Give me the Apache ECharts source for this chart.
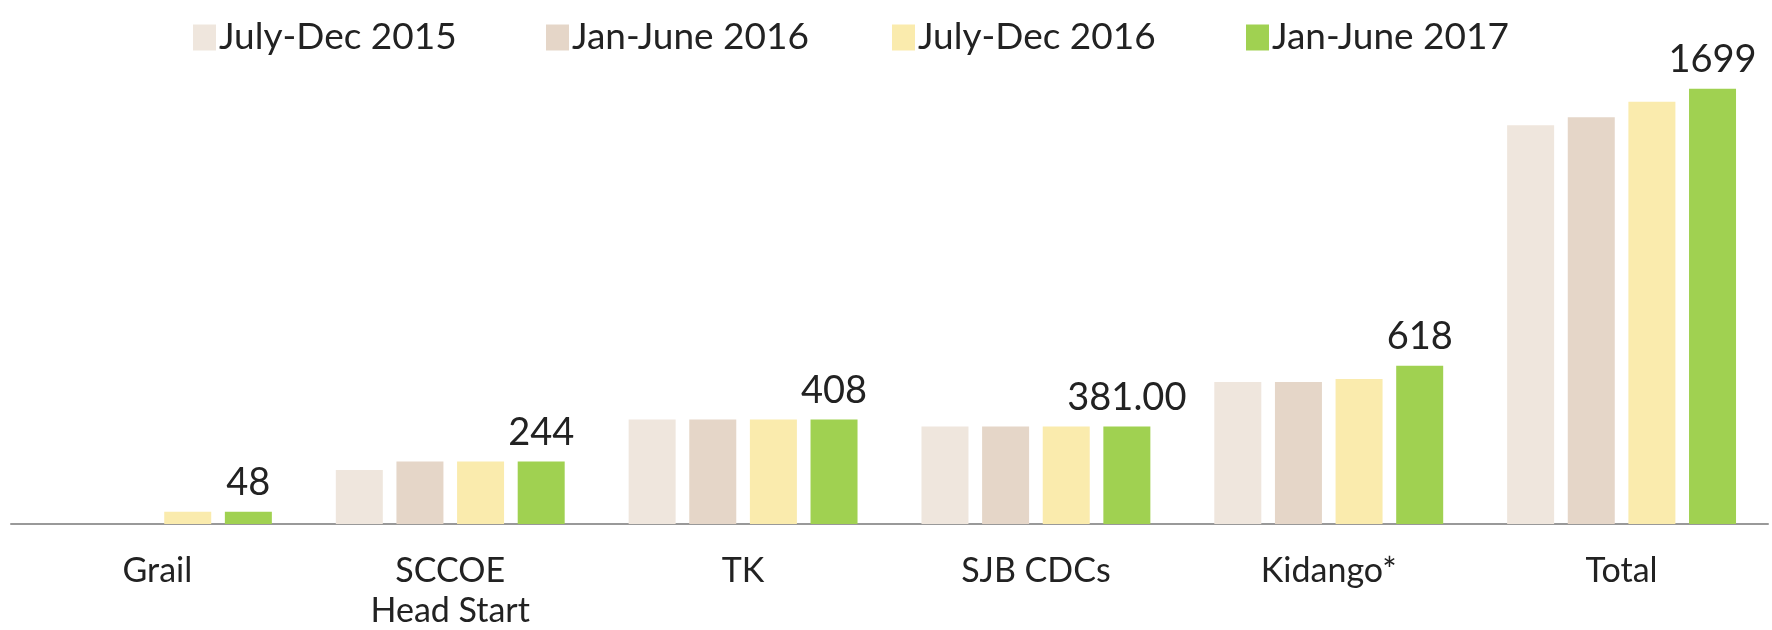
<!DOCTYPE html>
<html>
<head>
<meta charset="utf-8">
<script src="https://cdn.jsdelivr.net/npm/echarts@6/dist/echarts.min.js"></script>
<style>
  html, body { margin: 0; padding: 0; background: #fff; }
  #main { width: 1772px; height: 630px; }
</style>
</head>
<body>
<div id="main"></div>
<script>
// categories + series
const categories = ['Grail', 'SCCOE\nHead Start', 'TK', 'SJB CDCs', 'Kidango*', 'Total'];
const seriesNames = ['July-Dec 2015', 'Jan-June 2016', 'July-Dec 2016', 'Jan-June 2017'];
const julDec2015 = [null, 211, 408, 381, 554, 1556];
const janJun2016 = [null, 244, 408, 381, 554, 1588];
const julDec2016 = [48, 244, 408, 381, 566, 1648];
const janJun2017 = [48, 244, 408, 381, 618, 1699];
// only the last period is labelled
const valueLabels = ['48', '244', '408', '381.00', '618', '1699'];

const colors = ['#EFE6DD', '#E5D6C8', '#FAEBAD', '#A0D151'];
const legendLeft = [188, 541, 887, 1241];
const fontFamily = 'Lato, "Open Sans", sans-serif';

const chart = echarts.init(document.getElementById('main'));

const allData = [julDec2015, janJun2016, julDec2016, janJun2017];

chart.setOption({
  animation: false,
  legend: seriesNames.map((name, i) => ({
    data: [name],
    left: legendLeft[i],
    top: 14,
    itemWidth: 23,
    itemHeight: 26,
    itemGap: 0,
    textStyle: { fontSize: 37, color: '#222', fontFamily: fontFamily, padding: [0, 0, 0, -2] },
    icon: 'rect'
  })),
  grid: { left: 11, right: 4, top: 50, bottom: 106, containLabel: false, outerBoundsMode: 'none' },
  xAxis: {
    type: 'category',
    data: categories,
    axisLine: { lineStyle: { color: '#999', width: 2 } },
    axisTick: { show: false },
    axisLabel: {
      fontSize: 34,
      color: '#222',
      fontFamily: fontFamily,
      margin: 27,
      lineHeight: 40
    }
  },
  yAxis: {
    type: 'value',
    min: 0,
    max: 1850,
    show: false,
    splitLine: { show: false }
  },
  series: allData.map((data, i) => ({
    name: seriesNames[i],
    type: 'bar',
    data: data,
    barWidth: 47,
    barGap: '29%',
    itemStyle: { color: colors[i] },
    label: i === 3 ? {
      show: true,
      position: 'top',
      distance: 10,
      fontSize: 38,
      color: '#222',
      fontFamily: fontFamily,
      formatter: (p) => valueLabels[p.dataIndex]
    } : { show: false }
  }))
});
</script>
</body>
</html>
